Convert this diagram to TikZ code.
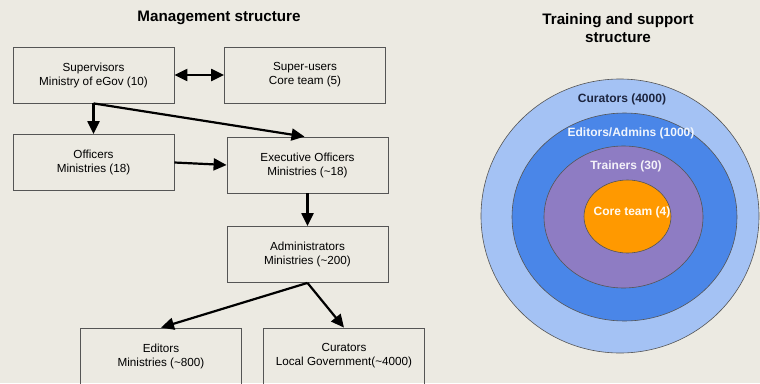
\documentclass[tikz,border=0pt]{standalone}
\usepackage{fontspec}
\setmainfont{Liberation Sans}
\usetikzlibrary{arrows.meta}

\definecolor{paper}{RGB}{236,234,226}
\definecolor{boxline}{RGB}{85,85,85}
\definecolor{curblue}{RGB}{164,194,244}
\definecolor{edblue}{RGB}{74,134,232}
\definecolor{trainpurple}{RGB}{142,124,195}
\definecolor{coreorange}{RGB}{255,153,0}
\definecolor{navy}{RGB}{28,36,62}

\tikzset{
  rolebox/.style={draw=boxline, line width=0.8pt, minimum width=161pt,
    minimum height=56pt, inner sep=0pt, align=center,
    font=\fontsize{11.7}{14}\selectfont},
  heading/.style={align=center, font=\fontsize{15.2}{18.5}\selectfont\bfseries},
  flow/.style={-{Triangle[length=13pt,width=12pt]}, line width=2.2pt},
  twoway/.style={{Triangle[length=13pt,width=12pt]}-{Triangle[length=13pt,width=12pt]}, line width=2.2pt},
  ring/.style={draw=boxline, line width=0.6pt},
  ringlabel/.style={font=\fontsize{12}{14}\selectfont\bfseries}
}

\begin{document}
\begin{tikzpicture}[x=1pt,y=-1pt]
\fill[paper] (0,0) rectangle (760,383);
\useasboundingbox (0,0) rectangle (760,383);
\clip (0,0) rectangle (760,383);

% management tree
\node[heading] (mgmt) at (219,18) {Management structure};
\node[rolebox] (sup) at (93.5,75) {Supervisors\\Ministry of eGov (10)};
\node[rolebox] (susr) at (305,75) {Super-users\\Core team (5)};
\node[rolebox] (off) at (93.5,162.5) {Officers\\Ministries (18)};
\node[rolebox] (exe) at (307.5,165) {Executive Officers\\Ministries (\textasciitilde18)};
\node[rolebox] (adm) at (307.5,254.5) {Administrators\\Ministries (\textasciitilde200)};
\node[rolebox] (edit) at (161,356) {Editors\\Ministries (\textasciitilde800)};
\node[rolebox] (cur) at (344,356) {Curators\\Local Government(\textasciitilde4000)};

\draw[twoway] (sup) -- (susr);
\draw[flow] (sup.south) -- (off.north);
\draw[flow] (sup.south) -- ([xshift=-3pt]exe.north);
\draw[flow] (off.east) -- (exe.west);
\draw[flow] (exe) -- (adm);
\draw[flow] (adm.south) -- (edit.north);
\draw[flow] (adm.south) -- (cur.north);

% training rings
\node[heading] (train) at (618,28) {Training and support\\structure};
\draw[ring, fill=curblue] (620,216) ellipse [x radius=139pt, y radius=137pt];
\draw[ring, fill=edblue] (624.5,217) ellipse [x radius=112.5pt, y radius=104pt];
\draw[ring, fill=trainpurple] (623.5,217) ellipse [x radius=79.5pt, y radius=71pt];
\draw[ring, fill=coreorange] (627.5,216.5) ellipse [x radius=43.5pt, y radius=36.5pt];

\node[ringlabel, text=navy] (lcur) at (622,99) {Curators (4000)};
\node[ringlabel, text=white!92!edblue] (led) at (631,133) {Editors/Admins (1000)};
\node[ringlabel, text=white!90!trainpurple] (ltr) at (626,166) {Trainers (30)};
\node[ringlabel, text=white!95!coreorange] (lcore) at (632,212) {Core team (4)};
\end{tikzpicture}
\end{document}
